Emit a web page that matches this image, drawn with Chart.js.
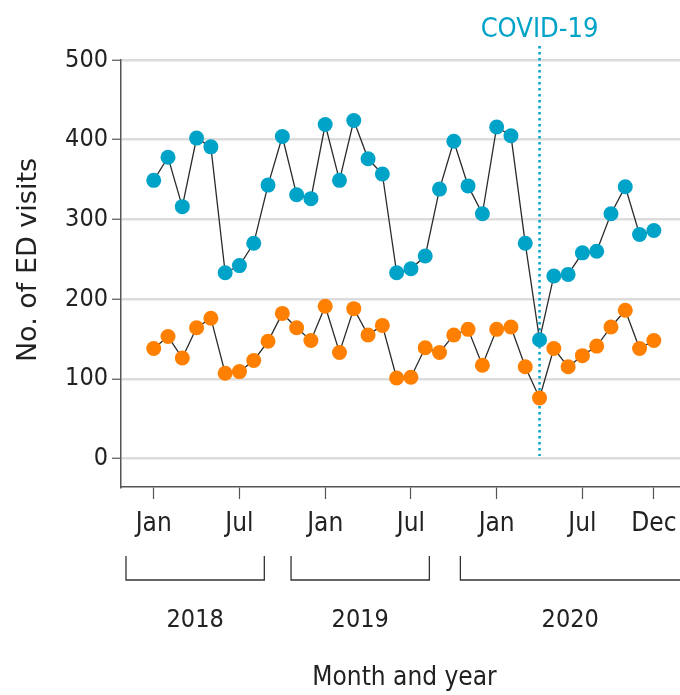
<!DOCTYPE html>
<html>
<head>
<meta charset="utf-8">
<script src="https://cdn.jsdelivr.net/npm/chart.js@4"></script>
<style>
  html, body { margin: 0; padding: 0; background: #fff; }
  #wrap { width: 680px; height: 695px; }
</style>
</head>
<body>
<div id="wrap"><canvas id="chart" width="680" height="695"></canvas></div>
<script>
// monthly ED visits, Jan 2018 .. Dec 2020
const months = [
  'Jan 2018', 'Feb 2018', 'Mar 2018', 'Apr 2018', 'May 2018', 'Jun 2018',
  'Jul 2018', 'Aug 2018', 'Sep 2018', 'Oct 2018', 'Nov 2018', 'Dec 2018',
  'Jan 2019', 'Feb 2019', 'Mar 2019', 'Apr 2019', 'May 2019', 'Jun 2019',
  'Jul 2019', 'Aug 2019', 'Sep 2019', 'Oct 2019', 'Nov 2019', 'Dec 2019',
  'Jan 2020', 'Feb 2020', 'Mar 2020', 'Apr 2020', 'May 2020', 'Jun 2020',
  'Jul 2020', 'Aug 2020', 'Sep 2020', 'Oct 2020', 'Nov 2020', 'Dec 2020'
];
const upperVisits = [349, 378, 316, 402, 391, 233, 242, 270, 343, 404, 331, 326,
                     419, 349, 424, 376, 357, 233, 238, 254, 338, 398, 342, 307,
                     416, 405, 270, 149, 229, 231, 258, 260, 307, 341, 281, 286];
const lowerVisits = [138, 153, 126, 164, 176, 107, 109, 123, 147, 182, 164, 148,
                     191, 133, 188, 155, 167, 101, 102, 139, 133, 155, 162, 117,
                     162, 165, 115, 76, 138, 115, 129, 141, 165, 186, 138, 148];
const tickMonths = [0, 6, 12, 18, 24, 30, 35];
const tickLabels = ['Jan', 'Jul', 'Jan', 'Jul', 'Jan', 'Jul', 'Dec'];
const yTicks = [0, 100, 200, 300, 400, 500];
const years = ['2018', '2019', '2020'];
const covidMonth = 27;
const covidLabel = 'COVID-19';

const BLUE = 'rgb(0, 163, 200)';
const ORANGE = 'rgb(255, 128, 0)';
const COND = '"DejaVu Sans Condensed", "Liberation Sans Narrow", sans-serif';

function points(vals) {
  return vals.map((v, i) => ({ x: i, y: v }));
}

// year brackets under the axis, in month units
const bracketSpans = [[-1.94, 7.74], [9.61, 19.29], [21.46, null]];

const extras = {
  id: 'extras',
  beforeDatasetsDraw(chart) {
    const { ctx, scales: { x } } = chart;
    const px = x.getPixelForValue(covidMonth);
    ctx.save();
    ctx.strokeStyle = BLUE;
    ctx.lineWidth = 2.5;
    ctx.setLineDash([2.5, 3.5]);
    ctx.beginPath();
    ctx.moveTo(px, 46);
    ctx.lineTo(px, 456);
    ctx.stroke();
    ctx.restore();
  },
  afterDraw(chart) {
    const { ctx, scales: { x }, chartArea } = chart;
    ctx.save();
    // covid label
    ctx.fillStyle = BLUE;
    ctx.font = '27px ' + COND;
    ctx.textAlign = 'center';
    ctx.textBaseline = 'alphabetic';
    ctx.fillText(covidLabel, x.getPixelForValue(covidMonth), 37);

    // year brackets
    ctx.strokeStyle = '#333';
    ctx.lineWidth = 1.3;
    ctx.fillStyle = '#222';
    ctx.font = '25px ' + COND;
    bracketSpans.forEach((s, i) => {
      const x0 = x.getPixelForValue(s[0]);
      const x1 = s[1] === null ? chartArea.right : x.getPixelForValue(s[1]);
      ctx.beginPath();
      ctx.moveTo(x0, 556);
      ctx.lineTo(x0, 580);
      ctx.lineTo(x1, 580);
      if (s[1] !== null) ctx.lineTo(x1, 556);
      ctx.stroke();
      ctx.fillText(years[i], (x0 + x1) / 2, 627);
    });

    // axis titles
    ctx.font = '26px ' + COND;
    ctx.fillText('Month and year', (chartArea.left + chartArea.right) / 2 + 4, 685);

    ctx.translate(29, 260);
    ctx.rotate(-Math.PI / 2);
    ctx.font = '27px "DejaVu Sans", sans-serif';
    ctx.textBaseline = 'middle';
    ctx.fillText('No. of ED visits', 0, 0);
    ctx.restore();
  }
};

const lineStyle = {
  borderColor: '#2a2a2a',
  borderWidth: 1.3,
  pointRadius: 7.5,
  pointBorderWidth: 0,
  fill: false,
  tension: 0
};

const config = {
  type: 'line',
  data: {
    datasets: [
      Object.assign({ label: 'Upper', data: points(upperVisits), pointBackgroundColor: BLUE }, lineStyle),
      Object.assign({ label: 'Lower', data: points(lowerVisits), pointBackgroundColor: ORANGE }, lineStyle)
    ]
  },
  options: {
    responsive: false,
    animation: false,
    events: [],
    layout: { autoPadding: false, padding: { top: 60, right: 0, left: 0, bottom: 0 } },
    plugins: {
      legend: { display: false },
      tooltip: { enabled: false }
    },
    scales: {
      x: {
        type: 'linear',
        min: -2.29,
        max: 36.83,
        afterBuildTicks: (s) => { s.ticks = tickMonths.map(v => ({ value: v })); },
        afterFit: (s) => { s.height = 208; s.paddingLeft = 0; s.paddingRight = 0; },
        ticks: {
          autoSkip: false,
          maxRotation: 0,
          padding: 10,
          color: '#222',
          font: { family: COND, size: 26 },
          callback: (v) => tickLabels[tickMonths.indexOf(v)]
        },
        grid: {
          drawOnChartArea: false,
          tickLength: 12,
          tickColor: '#555',
          tickWidth: 1.2
        },
        border: { color: '#555', width: 1.5 }
      },
      y: {
        min: -35.8,
        max: 500,
        afterBuildTicks: (s) => { s.ticks = yTicks.map(v => ({ value: v })); },
        afterFit: (s) => { s.width = 121; s.paddingTop = 0; s.paddingBottom = 0; },
        ticks: {
          padding: 4,
          color: '#222',
          font: { family: COND, size: 25 }
        },
        grid: {
          color: '#dcdcdc',
          lineWidth: 2.5,
          tickLength: 9,
          tickColor: '#555',
          tickWidth: 1.2
        },
        border: { color: '#555', width: 1.5 }
      }
    }
  },
  plugins: [extras]
};

new Chart(document.getElementById('chart').getContext('2d'), config);
</script>
</body>
</html>
